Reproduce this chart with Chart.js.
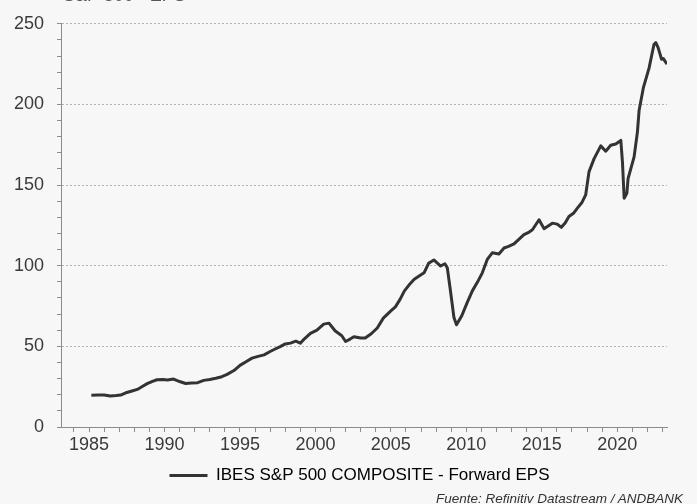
<!DOCTYPE html>
<html>
<head>
<meta charset="utf-8">
<script src="https://cdn.jsdelivr.net/npm/chart.js@4.4.1/dist/chart.umd.min.js"></script>
<style>
  html, body { margin: 0; padding: 0; background: #f7f7f7; }
  #wrap { position: relative; width: 697px; height: 504px; overflow: hidden; }
  #title { position: absolute; left: 63px; top: -15px; font: 18px "Liberation Sans", Arial, sans-serif; color: #555; white-space: nowrap; }
  #source { position: absolute; right: 14px; top: 491px; font: italic 13.5px "Liberation Sans", Arial, sans-serif; color: #333; white-space: nowrap; }
</style>
</head>
<body>
<div id="wrap">
  <div id="title">S&amp;P 500 - EPS</div>
  <canvas id="chart"></canvas>
  <div id="source">Fuente: Refinitiv Datastream / ANDBANK</div>
</div>
<script>
// fechas (año decimal) y BPA forward
const years = [
  1985.15, 1985.6, 1986.0, 1986.4, 1986.8, 1987.1, 1987.5, 1987.9, 1988.2, 1988.5,
  1988.85, 1989.2, 1989.5, 1989.9, 1990.2, 1990.6, 1991.0, 1991.4, 1991.8, 1992.2,
  1992.6, 1993.0, 1993.4, 1993.8, 1994.15, 1994.6, 1995.0, 1995.4, 1995.8, 1996.2,
  1996.6, 1997.0, 1997.3, 1997.7, 1998.0, 1998.35, 1998.7, 1999.0, 1999.2, 1999.67,
  2000.1, 2000.55, 2000.9, 2001.3, 2001.75, 2002.0, 2002.3, 2002.55, 2003.0, 2003.3,
  2003.7, 2004.1, 2004.5, 2005.0, 2005.3, 2005.6, 2005.9, 2006.2, 2006.55, 2006.9,
  2007.2, 2007.5, 2007.85, 2008.1, 2008.3, 2008.58, 2008.74, 2008.95, 2009.18, 2009.35,
  2009.7, 2010.05, 2010.4, 2010.75, 2011.06, 2011.39, 2011.72, 2012.16, 2012.5, 2012.8,
  2013.16, 2013.5, 2013.82, 2014.1, 2014.38, 2014.82, 2015.15, 2015.4, 2015.7, 2016.03,
  2016.3, 2016.55, 2016.8, 2017.1, 2017.36, 2017.65, 2017.91, 2018.13, 2018.47, 2018.91,
  2019.24, 2019.57, 2019.9, 2020.24, 2020.35, 2020.46, 2020.64, 2020.72, 2021.12, 2021.34,
  2021.45, 2021.74, 2022.11, 2022.44, 2022.56, 2022.71, 2022.94, 2023.06, 2023.3
];
const forwardEps = [
  19.7, 19.8, 19.9, 19.2, 19.5, 19.8, 21.4, 22.5, 23.3, 25.0,
  26.9, 28.3, 29.3, 29.5, 29.2, 29.7, 28.2, 27.0, 27.3, 27.5,
  28.9, 29.5, 30.2, 31.2, 32.6, 35.0, 38.2, 40.5, 42.7, 43.8,
  44.7, 46.8, 48.2, 50.0, 51.5, 52.0, 53.2, 52.0, 54.0, 58.1,
  60.1, 63.8, 64.4, 59.7, 56.6, 53.0, 54.5, 56.0, 55.2, 55.2,
  57.8, 61.4, 67.5, 72.0, 74.5, 79.0, 84.4, 88.0, 91.6, 93.8,
  95.6, 101.5, 103.6, 101.5, 99.8, 101.2, 98.7, 84.4, 67.9, 63.4,
  69.0, 77.0, 84.4, 90.0, 95.6, 103.9, 108.0, 107.3, 111.0, 112.0,
  113.5, 116.5, 119.3, 120.5, 122.3, 128.5, 123.0, 124.5, 126.4, 125.8,
  123.8, 126.5, 130.5, 132.5, 135.7, 139.0, 143.9, 158.2, 166.4, 174.3,
  171.0, 174.7, 175.5, 177.7, 164.0, 141.8, 144.9, 154.0, 167.5, 182.9,
  196.2, 210.6, 222.5, 237.3, 238.3, 235.2, 228.0, 228.4, 225.0
];
const seriesLabel = 'IBES S&P 500 COMPOSITE - Forward EPS';
const xTickYears = [];           // marcas anuales, etiqueta cada 5 años
for (let y = 1984; y <= 2023; y++) xTickYears.push(y);
const yTickValues = [];          // marcas cada 10, etiqueta cada 50
for (let v = 0; v <= 250; v += 10) yTickValues.push(v);

Chart.defaults.font.family = '"Liberation Sans", Arial, sans-serif';
Chart.defaults.color = '#3a3a3a';

const axisGrey = '#8c8c8c';

// la leyenda va centrada bajo el área del gráfico, no bajo todo el lienzo
const legendShift = {
  id: 'legendShift',
  afterLayout(chart) {
    const lg = chart.legend;
    lg.left += 52;
    lg.width = lg.right - lg.left;
  }
};

new Chart(document.getElementById('chart'), {
  type: 'line',
  data: {
    datasets: [{
      label: seriesLabel,
      data: years.map((x, i) => ({ x: x, y: forwardEps[i] })),
      borderColor: '#333333',
      backgroundColor: '#333333',
      borderWidth: 3,
      pointRadius: 0,
      tension: 0,
      borderJoinStyle: 'round',
    }]
  },
  options: {
    responsive: true,
    maintainAspectRatio: false,
    animation: false,
    layout: { padding: { left: 0, right: 30, top: 21, bottom: 10 } },
    scales: {
      x: {
        type: 'linear',
        min: 1983.14,
        max: 2023.3,
        afterBuildTicks: (scale) => { scale.ticks = xTickYears.map(v => ({ value: v })); },
        afterFit: (scale) => { scale.height = 30; },
        ticks: {
          autoSkip: false,
          maxRotation: 0,
          padding: 2,
          font: { size: 18 },
          callback: (v) => (v % 5 === 0 ? String(v) : ''),
        },
        grid: { drawOnChartArea: false, color: axisGrey, tickLength: 5 },
        border: { color: axisGrey, width: 1 },
      },
      y: {
        min: 0,
        max: 250,
        afterBuildTicks: (scale) => { scale.ticks = yTickValues.map(v => ({ value: v })); },
        afterFit: (scale) => { scale.width = 61; },
        ticks: {
          autoSkip: false,
          padding: 13,
          font: { size: 18 },
          callback: (v) => (v % 50 === 0 ? String(v) : ''),
        },
        grid: {
          color: (ctx) => (ctx.tick && ctx.tick.value % 50 === 0 && ctx.tick.value !== 0 ? '#b3b3b3' : 'rgba(0,0,0,0)'),
          tickColor: axisGrey,
          tickLength: 4,
          lineWidth: 1,
        },
        border: { color: axisGrey, width: 1, dash: [2, 2] },
      },
    },
    plugins: {
      legend: {
        position: 'bottom',
        labels: {
          boxWidth: 38,
          boxHeight: 3,
          padding: 10,
          font: { size: 17 },
          color: '#333',
          generateLabels: (chart) => chart.data.datasets.map((ds, i) => ({
            text: ds.label,
            fillStyle: ds.borderColor,
            strokeStyle: ds.borderColor,
            lineWidth: 0,
            datasetIndex: i,
          })),
        },
      },
      tooltip: { enabled: false },
    },
  },
  plugins: [legendShift],
});
</script>
</body>
</html>
